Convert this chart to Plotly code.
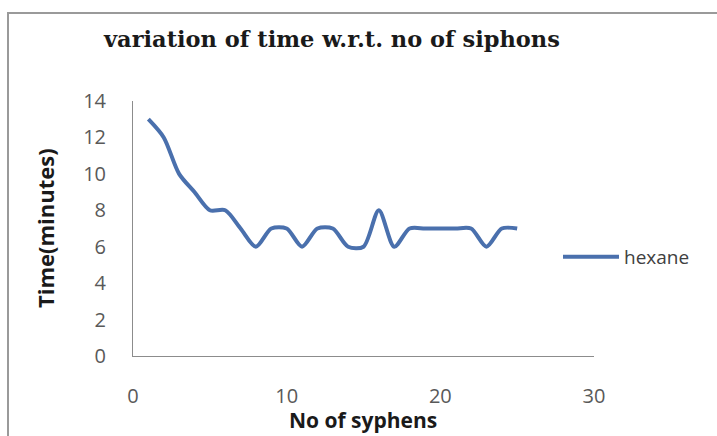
import plotly.graph_objects as go

siphons = list(range(1, 26))
time_minutes = [13, 12, 10, 9, 8, 8, 7, 6, 7, 7, 6, 7, 7, 6, 6, 8, 6, 7, 7, 7, 7, 7, 6, 7, 7]
series_name = "hexane"
title_text = "variation of time w.r.t. no of siphons"
x_title = "No of syphens"
y_title = "Time(minutes)"
x_ticks = [0, 10, 20, 30]
y_ticks = [0, 2, 4, 6, 8, 10, 12, 14]

fig = go.Figure()
fig.add_trace(go.Scatter(
    x=siphons, y=time_minutes, name=series_name, mode="lines",
    line=dict(color="#4a70ad", width=4, shape="spline", smoothing=0.8),
))

W, H = 717, 436
L, R, T, B = 133, 123, 101, 80
pw, ph = W - L - R, H - T - B

def px_x(p):
    return (p - L) / pw

def px_y(p):
    return (H - B - p) / ph

tick_font = dict(family="Open Sans", size=20, color="#595959")

fig.update_layout(
    width=W, height=H,
    margin=dict(l=L, r=R, t=T, b=B),
    paper_bgcolor="white", plot_bgcolor="white",
    showlegend=True,
    legend=dict(x=px_x(558), y=px_y(257), xanchor="left", yanchor="middle",
                itemwidth=56,
                font=dict(family="Open Sans", size=19, color="#404040"),
                bgcolor="rgba(0,0,0,0)"),
    xaxis=dict(range=[0, 30], tickvals=x_ticks, showgrid=False, zeroline=False,
               showline=True, linecolor="#8c8c8c", linewidth=1, ticks="",
               tickfont=tick_font, ticklabelstandoff=22),
    yaxis=dict(range=[0, 14], tickvals=y_ticks, showgrid=False, zeroline=False,
               showline=True, linecolor="#8c8c8c", linewidth=1, ticks="",
               tickfont=tick_font, ticklabelstandoff=22),
    shapes=[dict(type="rect", xref="paper", yref="paper",
                 x0=px_x(8), x1=px_x(730), y0=px_y(450), y1=px_y(13),
                 line=dict(color="#9a9a9a", width=2), fillcolor="rgba(0,0,0,0)",
                 layer="below")],
    annotations=[
        dict(text="<b>" + title_text + "</b>", xref="paper", yref="paper",
             x=px_x(331), y=px_y(39), xanchor="center", yanchor="middle",
             showarrow=False, font=dict(family="DejaVu Serif", size=22.5, color="#1a1a1a")),
        dict(text="<b>" + x_title + "</b>", xref="paper", yref="paper",
             x=px_x(363), y=px_y(420), xanchor="center", yanchor="middle",
             showarrow=False, font=dict(family="Open Sans", size=21, color="#1a1a1a")),
        dict(text="<b>" + y_title + "</b>", xref="paper", yref="paper",
             x=px_x(45), y=px_y(228), xanchor="center", yanchor="middle", textangle=-90,
             showarrow=False, font=dict(family="Open Sans", size=22, color="#1a1a1a")),
    ],
)

fig.write_html("out.html")
